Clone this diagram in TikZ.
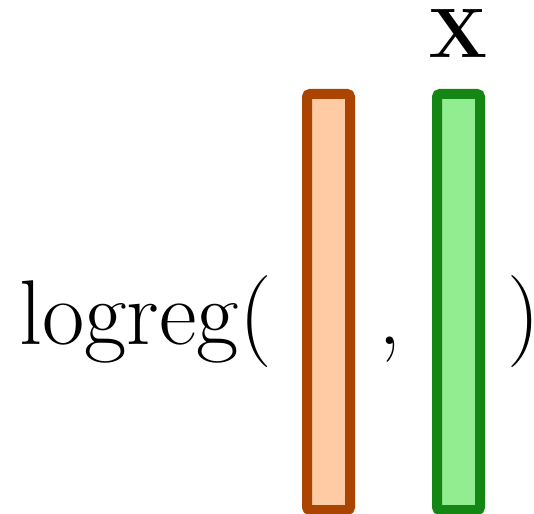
\documentclass[tikz,border=0pt]{standalone}
\begin{document}
\begin{tikzpicture}[x=0.5pt,y=-0.5pt,
  vec/.style={line width=5pt,rounded corners=1.5pt},
  big/.style={inner sep=0pt,font=\fontsize{46}{54}\selectfont},
  lab/.style={inner sep=0pt,font=\fontsize{35}{40}\selectfont\bfseries}]
\definecolor{obord}{RGB}{170,68,0}
\definecolor{ofill}{RGB}{255,203,164}
\definecolor{gbord}{RGB}{19,134,19}
\definecolor{gfill}{RGB}{144,238,144}
\useasboundingbox (0,0) rectangle (534,513);
\draw[vec,draw=obord,fill=ofill] (307,94) rectangle (350,510);
\draw[vec,draw=gbord,fill=gfill] (437,94) rectangle (480,510);
\node[big,anchor=base west] (fn) at (19,344) {logreg(};
\node[big,anchor=base west] (comma) at (378,344) {,};
\node[big,anchor=base west] (rp) at (507,344) {)};
\node[lab,anchor=base] (x) at (458.5,58) {X};
\end{tikzpicture}
\end{document}
